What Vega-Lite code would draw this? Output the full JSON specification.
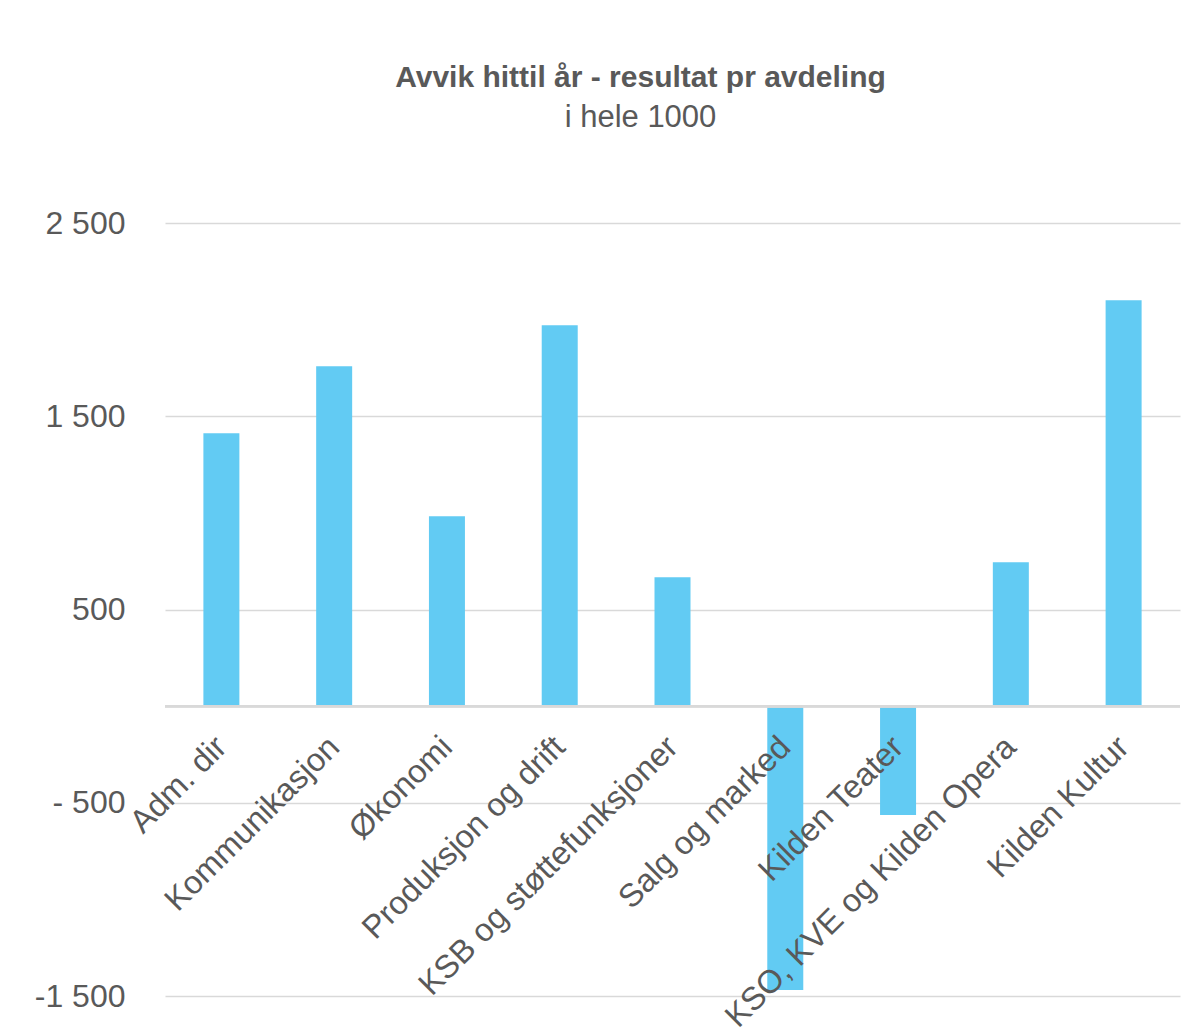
{
  "$schema": "https://vega.github.io/schema/vega-lite/v6.json",
  "autosize": "none",
  "width": 1015,
  "height": 773,
  "padding": {"left": 165, "top": 223, "right": 16, "bottom": 38},
  "background": "white",
  "config": {"view": {"stroke": null}, "font": "Liberation Sans"},
  "title": {
    "text": "Avvik hittil år - resultat pr avdeling",
    "subtitle": "i hele 1000",
    "fontSize": 30,
    "fontWeight": "bold",
    "color": "#595959",
    "subtitleFontSize": 31,
    "subtitleColor": "#595959",
    "subtitleFont": "Liberation Sans",
    "font": "Liberation Sans",
    "anchor": "middle",
    "dx": -32,
    "offset": 74,
    "subtitlePadding": 10
  },
  "data": {
    "values": [
      {"avdeling": "Adm. dir", "avvik": 1412},
      {"avdeling": "Kommunikasjon", "avvik": 1759},
      {"avdeling": "Økonomi", "avvik": 983},
      {"avdeling": "Produksjon og drift", "avvik": 1971},
      {"avdeling": "KSB og støttefunksjoner", "avvik": 667},
      {"avdeling": "Salg og marked", "avvik": -1469},
      {"avdeling": "Kilden Teater", "avvik": -564},
      {"avdeling": "KSO, KVE og Kilden Opera", "avvik": 745},
      {"avdeling": "Kilden Kultur", "avvik": 2100}
    ]
  },
  "encoding": {
    "x": {
      "field": "avdeling",
      "type": "nominal",
      "sort": null,
      "scale": {"paddingInner": 0, "paddingOuter": 0},
      "axis": null
    }
  },
  "layer": [
    {
      "mark": {"type": "bar", "color": "#62CBF3", "size": 36},
      "encoding": {
        "y": {
          "field": "avvik",
          "type": "quantitative",
          "scale": {"domain": [-1500, 2500], "nice": false, "zero": false},
          "axis": {
            "values": [-1500, -500, 500, 1500, 2500],
            "title": null,
            "domain": false,
            "ticks": false,
            "labelPadding": 40,
            "labelFontSize": 32,
            "labelColor": "#595959",
            "labelFont": "Liberation Sans",
            "gridColor": "#d9d9d9",
            "gridWidth": 1.5,
            "labelExpr": "datum.value == 2500 ? '2 500' : datum.value == 1500 ? '1 500' : datum.value == 500 ? '500' : datum.value == -500 ? '- 500' : '-1 500'"
          }
        }
      }
    },
    {
      "mark": {"type": "rule", "color": "#d9d9d9", "strokeWidth": 2},
      "encoding": {"y": {"datum": 0, "type": "quantitative"}, "x": {}}
    },
    {
      "mark": {
        "type": "text",
        "angle": 315,
        "align": "right",
        "baseline": "middle",
        "fontSize": 32.5,
        "color": "#595959",
        "font": "Liberation Sans",
        "yOffset": 36
      },
      "encoding": {
        "y": {"datum": 0, "type": "quantitative"},
        "text": {"field": "avdeling"}
      }
    }
  ]
}
